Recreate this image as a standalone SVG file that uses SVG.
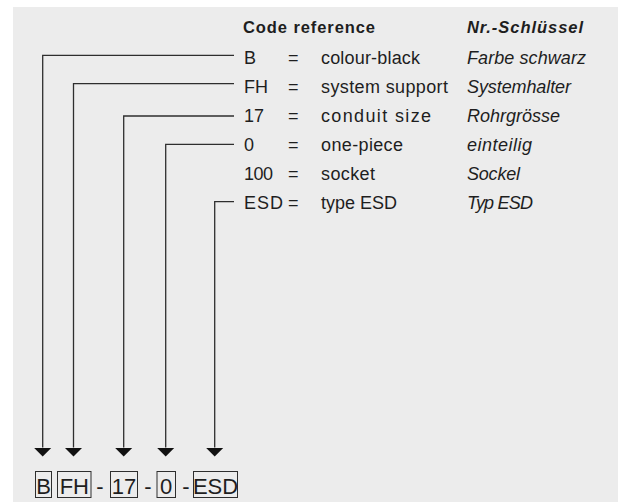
<svg xmlns="http://www.w3.org/2000/svg" width="624" height="502" viewBox="0 0 624 502">
<style>
.t{font-family:"Liberation Sans",Arial,sans-serif;font-size:18px;fill:#1e1e1e}
.h{font-weight:bold;font-size:16.5px}
.i{font-style:italic}
.c{fill:none;stroke:#2e2e2e;stroke-width:1.3}
.b{fill:none;stroke:#2e2e2e;stroke-width:1}
.bt{font-family:"Liberation Sans",Arial,sans-serif;font-size:22px;fill:#1e1e1e;text-anchor:middle}
</style>
<defs>
<marker id="ah" markerUnits="userSpaceOnUse" markerWidth="18" markerHeight="9" viewBox="0 0 18 9" refX="9" refY="0" orient="0">
<path d="M0 0 L18 0 L9 9 Z" fill="#111"/>
</marker>
</defs>
<rect x="13" y="7" width="605" height="495" fill="#ececec"/>
<g id="header">
<text class="t h" x="243" y="33" textLength="132" lengthAdjust="spacing">Code reference</text>
<text class="t h i" x="467" y="33" textLength="116" lengthAdjust="spacing">Nr.-Schlüssel</text>
</g>
<g id="row-B">
<text class="t" x="244" y="63.5">B</text>
<text class="t" x="288" y="63.5">=</text>
<text class="t" x="321" y="63.5" textLength="99" lengthAdjust="spacing">colour-black</text>
<text class="t i" x="467" y="63.5" textLength="119" lengthAdjust="spacing">Farbe schwarz</text>
</g>
<g id="row-FH">
<text class="t" x="244" y="92.5">FH</text>
<text class="t" x="288" y="92.5">=</text>
<text class="t" x="321" y="92.5" textLength="127" lengthAdjust="spacing">system support</text>
<text class="t i" x="467" y="92.5" textLength="104" lengthAdjust="spacing">Systemhalter</text>
</g>
<g id="row-17">
<text class="t" x="244" y="121.5">17</text>
<text class="t" x="288" y="121.5">=</text>
<text class="t" x="321" y="121.5" textLength="110" lengthAdjust="spacing">conduit size</text>
<text class="t i" x="467" y="121.5" textLength="93" lengthAdjust="spacing">Rohrgrösse</text>
</g>
<g id="row-0">
<text class="t" x="244" y="150.5">0</text>
<text class="t" x="288" y="150.5">=</text>
<text class="t" x="321" y="150.5" textLength="82" lengthAdjust="spacing">one-piece</text>
<text class="t i" x="467" y="150.5" textLength="65" lengthAdjust="spacing">einteilig</text>
</g>
<g id="row-100">
<text class="t" x="244" y="179.5" textLength="29" lengthAdjust="spacing">100</text>
<text class="t" x="288" y="179.5">=</text>
<text class="t" x="321" y="179.5" textLength="54" lengthAdjust="spacing">socket</text>
<text class="t i" x="467" y="179.5" textLength="53" lengthAdjust="spacing">Sockel</text>
</g>
<g id="row-ESD">
<text class="t" x="244" y="208.5" textLength="39" lengthAdjust="spacing">ESD</text>
<text class="t" x="288" y="208.5">=</text>
<text class="t" x="321" y="208.5" textLength="76" lengthAdjust="spacing">type ESD</text>
<text class="t i" x="467" y="208.5" textLength="66" lengthAdjust="spacing">Typ ESD</text>
</g>
<g id="connectors">
<path class="c" d="M234 55.3 H42.7 V447.5" marker-end="url(#ah)"/>
<path class="c" d="M234 83.7 H73.5 V447.5" marker-end="url(#ah)"/>
<path class="c" d="M234 116 H123.7 V447.5" marker-end="url(#ah)"/>
<path class="c" d="M234 144.3 H165.7 V447.5" marker-end="url(#ah)"/>
<path class="c" d="M234 201.7 H214.7 V447.5" marker-end="url(#ah)"/>
</g>
<g id="code">
<g id="box-B"><rect class="b" x="35.5" y="471.5" width="16" height="26"/><text class="bt" x="43.5" y="494">B</text></g>
<g id="box-FH"><rect class="b" x="57.5" y="471.5" width="33.5" height="26"/><text class="bt" x="74.3" y="494">FH</text></g>
<text class="bt" x="100" y="494">-</text>
<g id="box-17"><rect class="b" x="110.5" y="471.5" width="27" height="26"/><text class="bt" x="124" y="494">17</text></g>
<text class="bt" x="148" y="494">-</text>
<g id="box-0"><rect class="b" x="157" y="471.5" width="18.5" height="26"/><text class="bt" x="166.2" y="494">0</text></g>
<text class="bt" x="186" y="494">-</text>
<g id="box-ESD"><rect class="b" x="193.5" y="471.5" width="44" height="26"/><text class="bt" x="215.5" y="494">ESD</text></g>
</g>
</svg>
